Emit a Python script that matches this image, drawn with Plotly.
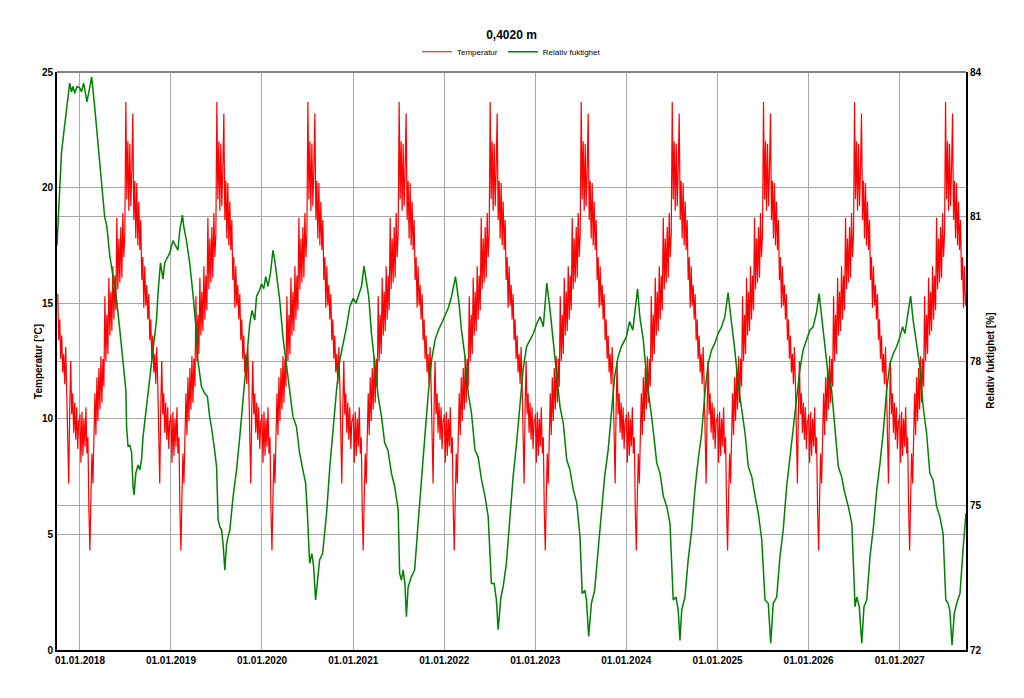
import datetime as dt
import plotly.graph_objects as go

start = dt.date(2017, 10, 1)
end = dt.date(2027, 9, 24)
years = list(range(2017, 2028))
year_ticks = ["%d-01-01" % y for y in range(2018, 2028)]

# one climate year of temperature, every 4th day from 1 Jan (degC); the
# simulation repeats the same climate year, so this profile shows every year
temp_step = 4
temp_val = [10.2, 8.1, 10.3, 8.4, 10.0, 8.8, 10.5, 8.5,
            9.2, 6.0, 4.3, 6.6, 8.5, 7.2, 9.4, 11.1,
            9.3, 11.8, 9.9, 12.2, 10.4, 12.7, 10.7, 12.6,
            11.4, 15.3, 12.5, 14.5, 12.8, 16.1, 13.6, 15.5,
            13.8, 16.6, 14.3, 16.2, 14.7, 18.7, 15.6, 17.8,
            15.9, 18.3, 16.1, 18.9, 17.0, 18.0, 23.7, 19.5,
            22.0, 19.0, 21.9, 19.2, 20.8, 23.2, 18.6, 20.3,
            17.8, 20.2, 17.5, 19.4, 17.3, 18.6, 16.0, 17.0,
            14.8, 16.6, 14.9, 15.8, 14.3, 15.4, 13.4, 14.3,
            12.6, 13.6, 12.0, 12.8, 11.5, 13.1, 11.5, 9.5,
            7.2, 10.4, 12.5, 10.2, 11.1, 9.4, 10.7, 9.1,
            10.5, 8.7, 9.9, 10.0]

# relative humidity, days since 2017-10-01 -> %
rh_day = [0, 11, 18, 27, 35, 44, 51, 58, 64, 71, 80, 91, 98, 107, 120, 131, 139, 151,
          164, 178, 191, 200, 212, 225, 239, 252, 265, 276, 279, 285, 292, 299, 305,
          309, 316, 325, 332, 339, 345, 359, 372, 385, 399, 405, 415, 425, 432, 452,
          465, 485, 492, 503, 508, 519, 532, 545, 559, 565, 579, 592, 603, 612, 619,
          632, 640, 646, 653, 660, 666, 673, 680, 686, 693, 706, 720, 733, 746, 760,
          773, 782, 793, 800, 813, 820, 829, 837, 846, 856, 866, 873, 882, 893, 906,
          920, 933, 946, 960, 973, 986, 997, 1004, 1013, 1022, 1029, 1037, 1047,
          1053, 1065, 1081, 1094, 1108, 1121, 1134, 1148, 1161, 1174, 1188, 1199,
          1208, 1221, 1231, 1241, 1250, 1261, 1274, 1288, 1301, 1314, 1327, 1341,
          1354, 1368, 1374, 1381, 1388, 1395, 1401, 1408, 1421, 1434, 1448, 1461,
          1475, 1489, 1502, 1516, 1529, 1542, 1555, 1569, 1582, 1598, 1612, 1622,
          1636, 1649, 1662, 1676, 1689, 1702, 1716, 1729, 1742, 1753, 1762, 1769,
          1780, 1789, 1802, 1816, 1829, 1843, 1856, 1869, 1883, 1896, 1910, 1924,
          1937, 1950, 1964, 1977, 1990, 2004, 2017, 2030, 2044, 2057, 2070, 2084,
          2097, 2106, 2117, 2123, 2132, 2143, 2156, 2170, 2183, 2196, 2210, 2223,
          2236, 2250, 2263, 2283, 2296, 2309, 2328, 2337, 2351, 2364, 2378, 2389,
          2405, 2418, 2431, 2445, 2458, 2471, 2482, 2491, 2498, 2505, 2518, 2531,
          2545, 2558, 2571, 2585, 2598, 2611, 2625, 2638, 2651, 2665, 2678, 2691,
          2705, 2718, 2731, 2745, 2759, 2772, 2786, 2799, 2812, 2826, 2839, 2852,
          2862, 2872, 2886, 2899, 2912, 2926, 2939, 2952, 2966, 2979, 2992, 3006,
          3019, 3032, 3046, 3056, 3066, 3079, 3093, 3106, 3119, 3133, 3146, 3159,
          3173, 3187, 3193, 3200, 3207, 3217, 3227, 3236, 3247, 3260, 3274, 3287,
          3300, 3314, 3327, 3340, 3354, 3367, 3380, 3391, 3400, 3409, 3423, 3433,
          3444, 3453, 3460, 3473, 3487, 3500, 3513, 3527, 3540, 3553, 3564, 3573,
          3580, 3589, 3598, 3608, 3621, 3634, 3645]
rh_val = [80.4, 81.62, 82.32, 82.73, 83.07, 83.42, 83.77, 83.59, 83.7, 83.56, 83.7,
          83.67, 83.59, 83.77, 83.38, 83.67, 83.9, 83.28, 82.52, 81.69, 81.0, 80.79,
          80.17, 79.75, 79.27, 78.64, 77.95, 77.4, 76.64, 76.22, 76.25, 76.11, 75.39,
          75.22, 75.67, 75.84, 75.74, 75.95, 76.43, 77.05, 77.67, 78.23, 78.85, 79.4,
          80.04, 79.7, 80.04, 80.24, 80.5, 80.3, 80.7, 81.03, 80.8, 80.5, 80.04, 79.4,
          78.6, 78.02, 77.47, 77.33, 77.26, 76.85, 76.64, 76.15, 75.8, 74.7, 74.56,
          74.49, 74.2, 73.66, 74.2, 74.35, 74.49, 75.18, 75.74, 76.43, 77.2, 78.02,
          78.78, 79.05, 78.85, 79.34, 79.48, 79.6, 79.5, 79.75, 79.55, 79.83, 80.3,
          80.1, 79.75, 79.27, 78.5, 77.9, 77.3, 76.85, 76.64, 76.08, 75.74, 75.46,
          74.84, 73.8, 74.0, 73.73, 73.04, 73.66, 73.87, 74.0, 74.84, 75.8, 76.7,
          77.4, 78.02, 78.35, 78.71, 79.13, 79.3, 79.2, 79.34, 79.55, 79.97, 79.62,
          79.34, 78.57, 77.95, 77.26, 76.85, 76.3, 76.15, 75.67, 75.4, 74.91, 73.59,
          73.45, 73.66, 73.38, 72.69, 73.31, 73.52, 73.66, 74.63, 75.6, 76.43, 77.33,
          78.02, 78.44, 78.64, 78.78, 78.92, 79.1, 79.34, 79.75, 79.2, 78.64, 78.09,
          77.33, 76.92, 76.15, 76.0, 75.54, 75.2, 74.77, 73.38, 73.38, 73.04, 72.42,
          73.1, 73.31, 73.8, 74.77, 75.6, 76.3, 77.05, 77.82, 78.3, 78.44, 78.57,
          78.78, 78.92, 78.71, 79.62, 79.06, 78.37, 77.67, 77.05, 76.71, 75.95, 75.74,
          75.33, 75.06, 74.36, 73.17, 73.24, 73.04, 72.28, 72.97, 73.24, 74.08, 74.91,
          75.6, 76.15, 76.85, 77.67, 78.09, 78.3, 78.5, 78.82, 78.64, 79.5, 78.92,
          78.44, 77.67, 77.12, 76.64, 75.88, 75.67, 75.2, 74.98, 74.63, 73.04, 73.1,
          72.83, 72.2, 72.83, 73.1, 73.87, 74.49, 75.33, 75.95, 76.5, 77.33, 77.95,
          78.23, 78.37, 78.57, 78.71, 78.92, 79.42, 78.78, 78.23, 77.54, 76.98, 76.5,
          75.81, 75.6, 75.2, 74.84, 74.29, 73.04, 72.97, 72.14, 72.97, 73.1, 73.94,
          74.49, 75.4, 76.01, 76.57, 77.26, 77.82, 78.23, 78.44, 78.64, 78.71, 79.02,
          79.4, 78.92, 78.44, 77.67, 77.4, 76.71, 75.81, 75.6, 75.26, 74.98, 74.63,
          73.87, 72.9, 73.1, 72.9, 72.14, 72.9, 73.04, 73.94, 74.56, 75.32, 75.87,
          76.57, 77.4, 77.95, 78.16, 78.3, 78.5, 78.71, 78.57, 78.92, 79.35, 78.85,
          78.44, 78.09, 77.88, 77.05, 76.5, 75.67, 75.53, 74.98, 74.77, 74.42, 73.04,
          72.97, 72.83, 72.1, 72.76, 72.97, 73.18, 74.14, 74.84]

t_x, t_y = [], []
for yr in years:
    for i, v in enumerate(temp_val):
        day = dt.date(yr, 1, 1) + dt.timedelta(days=i * temp_step)
        if start <= day <= end:
            t_x.append(day.isoformat())
            t_y.append(v)

rh_x = [(start + dt.timedelta(days=d)).isoformat() for d in rh_day]

fig = go.Figure()
fig.add_trace(go.Scatter(x=t_x, y=t_y, mode="lines", name="Temperatur",
                         line=dict(color="#ff0000", width=1.2)))
fig.add_trace(go.Scatter(x=rh_x, y=rh_val, mode="lines", name="Relativ fuktighet",
                         line=dict(color="#008000", width=1.5), yaxis="y2"))

# the page body adds 8px around the figure, so the figure is 8px smaller
W, H = 1016, 690
bold = dict(size=10, color="black", weight="bold")
fig.update_layout(
    width=W, height=H,
    margin=dict(l=49, r=58, t=64, b=48),
    paper_bgcolor="white", plot_bgcolor="white",
    font=dict(family="Liberation Sans, Arial, sans-serif", size=10, color="black"),
    title=dict(text="<b>0,4020 m</b>", x=0.5, xanchor="center", xref="paper",
               y=1 - 27 / H, yanchor="middle", yref="container",
               font=dict(size=12, color="black")),
    legend=dict(orientation="h", x=0.5, xanchor="center", y=1.035, yanchor="middle",
                font=dict(size=8), itemwidth=30, bgcolor="rgba(0,0,0,0)"),
    xaxis=dict(type="date", range=[start.isoformat(), end.isoformat()],
               tickvals=year_ticks, tickformat="%d.%m.%Y",
               showgrid=True, gridcolor="#a8a8a8", gridwidth=1,
               showline=True, linecolor="black", linewidth=2,
               ticks="", tickfont=bold, zeroline=False),
    yaxis=dict(range=[0, 25], tickvals=[0, 5, 10, 15, 20, 25],
               showgrid=True, gridcolor="#a8a8a8", gridwidth=1,
               showline=True, linecolor="black", linewidth=2,
               ticks="", tickfont=bold, zeroline=False),
    yaxis2=dict(range=[72, 84], tickvals=[72, 75, 78, 81, 84], overlaying="y",
                side="right", showgrid=True, gridcolor="#a8a8a8", gridwidth=1,
                showline=True, linecolor="black", linewidth=2,
                ticks="", tickfont=bold, zeroline=False),
    shapes=[dict(type="line", xref="paper", yref="paper", x0=0, x1=1, y0=1, y1=1,
                 line=dict(color="#808080", width=2))],
    annotations=[
        dict(text="<b>Temperatur [°C]</b>", xref="paper", yref="paper",
             x=-0.021, xanchor="center", y=0.5, textangle=-90, showarrow=False,
             font=dict(size=10)),
        dict(text="<b>Relativ fuktighet [%]</b>", xref="paper", yref="paper",
             x=1.026, xanchor="center", y=0.5, textangle=-90, showarrow=False,
             font=dict(size=10)),
    ],
)

fig.write_html("out.html")
